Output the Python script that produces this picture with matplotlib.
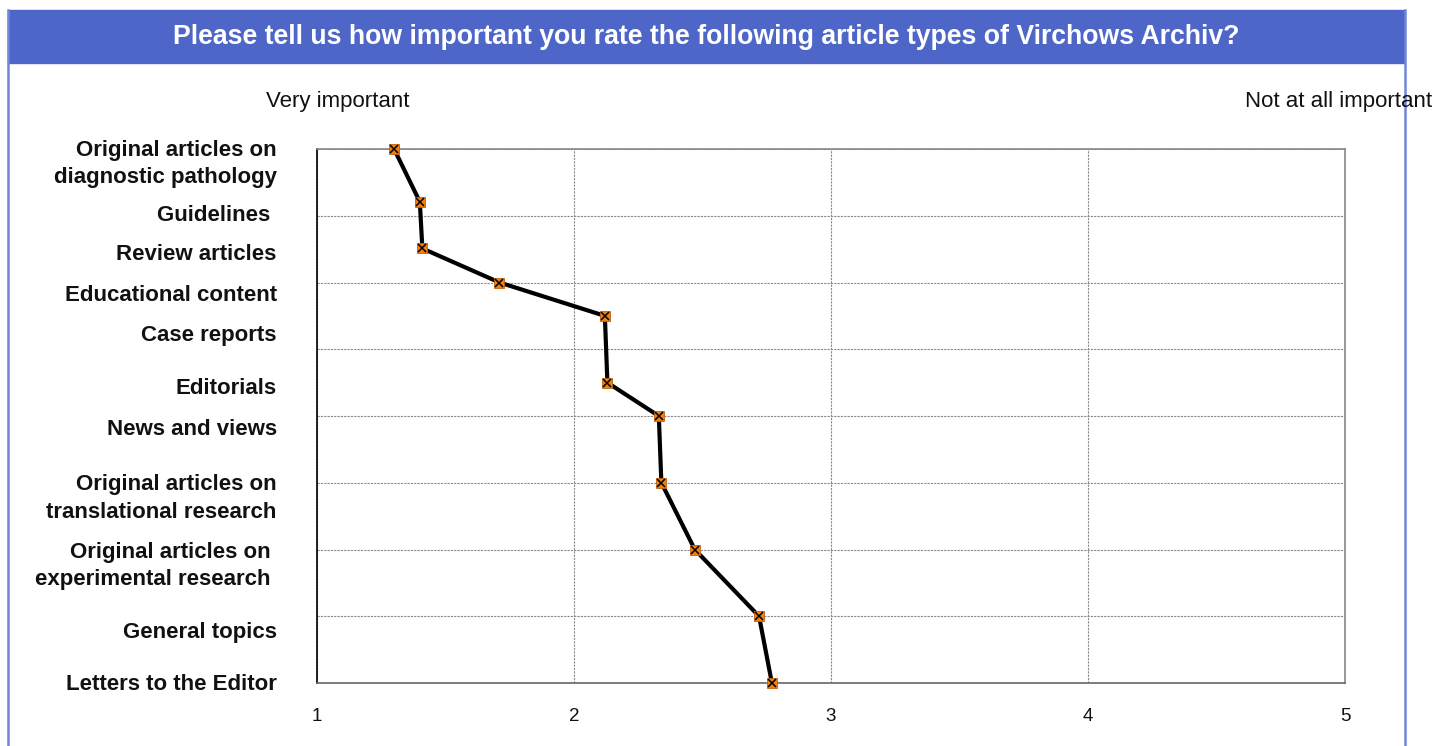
import matplotlib.pyplot as plt
from matplotlib.patches import Rectangle
from matplotlib.lines import Line2D

plt.rcParams['font.family'] = ['Liberation Sans', 'DejaVu Sans']

TITLE = "Please tell us how important you rate the following article types of Virchows Archiv?"
HEADER_BLUE = "#4F66C9"

# article types, top to bottom
labels = [
    "Original articles on\ndiagnostic pathology",
    "Guidelines ",
    "Review articles",
    "Educational content",
    "Case reports",
    "Editorials",
    "News and views",
    "Original articles on\ntranslational research",
    "Original articles on \nexperimental research ",
    "General topics",
    "Letters to the Editor",
]
# mean rating (1 = very important, 5 = not at all important)
ratings = [1.30, 1.40, 1.41, 1.71, 2.12, 2.13, 2.33, 2.34, 2.47, 2.72, 2.77]
# vertical position of each point on the chart's row scale (0 = top)
rows = [0, 0.79, 1.49, 2, 2.5, 3.5, 4, 5, 6, 7, 8]
# vertical position of each category label
label_rows = [0.14, 0.96, 1.545, 2.16, 2.76, 3.555, 4.17, 5.15, 6.16, 7.2, 7.99]
x_ticks = [1, 2, 3, 4, 5]

fig = plt.figure(figsize=(14.35, 7.46), dpi=100)

# header bar and frame
W, H = 1435, 746
fig.patches.append(Rectangle((8 / W, 1 - 63 / H), (1404 - 8) / W, 53 / H,
                             transform=fig.transFigure, color=HEADER_BLUE, zorder=0))
fig.add_artist(Line2D([8 / W, 8 / W], [0, 1 - 10 / H], transform=fig.transFigure,
                      color="#7086D8", lw=1.8))
fig.add_artist(Line2D([1405 / W, 1405 / W], [0, 1 - 10 / H], transform=fig.transFigure,
                      color="#7086D8", lw=1.8))
fig.text(706 / W, 1 - 37 / H, TITLE, color="white", fontsize=19.2, fontweight="bold",
         ha="center", va="center")
fig.text(338 / W, 1 - 101 / H, "Very important", fontsize=16, ha="center", va="center",
         color="#111111")
fig.text(1339 / W, 1 - 101 / H, "Not at all important", fontsize=16, ha="center",
         va="center", color="#111111")

ax = fig.add_axes([317 / W, 1 - 683 / H, (1345 - 317) / W, (683 - 149) / H])
ax.plot(ratings, rows, color="black", lw=3, zorder=3, solid_joinstyle="round")
ax.plot(ratings, rows, ls="none", marker="s", ms=7, mfc="#F07F10", mec="#C06010",
        mew=0.6, zorder=4, clip_on=False)
ax.plot(ratings, rows, ls="none", marker="x", ms=6, mec="black", mew=1.1, zorder=5,
        clip_on=False)

ax.set_xlim(1, 5)
ax.set_ylim(8, 0)
ax.set_xticks(x_ticks)
ax.set_xticklabels([str(t) for t in x_ticks], fontsize=13.5, color="#111111")
ax.yaxis.remove_overlapping_locs = False
ax.set_yticks(range(0, 9))
ax.set_yticklabels([])
ax.set_yticks(label_rows, minor=True)
ax.set_yticklabels(labels, minor=True, fontsize=16, fontweight="bold", ha="right",
                   color="#111111", linespacing=1.4)
ax.tick_params(axis="y", which="both", length=0, pad=29)
ax.tick_params(axis="x", length=0, pad=18)

ax.grid(True, which="major", color="#8a8a8a", ls=(0, (2, 1)), lw=0.8)
ax.set_axisbelow(True)
for side in ["top", "right", "bottom"]:
    ax.spines[side].set_color("#888888")
    ax.spines[side].set_linewidth(1.2)
ax.spines["bottom"].set_color("#666666")
ax.spines["left"].set_color("black")
ax.spines["left"].set_linewidth(1.2)

fig.savefig("out.png", dpi=100)
